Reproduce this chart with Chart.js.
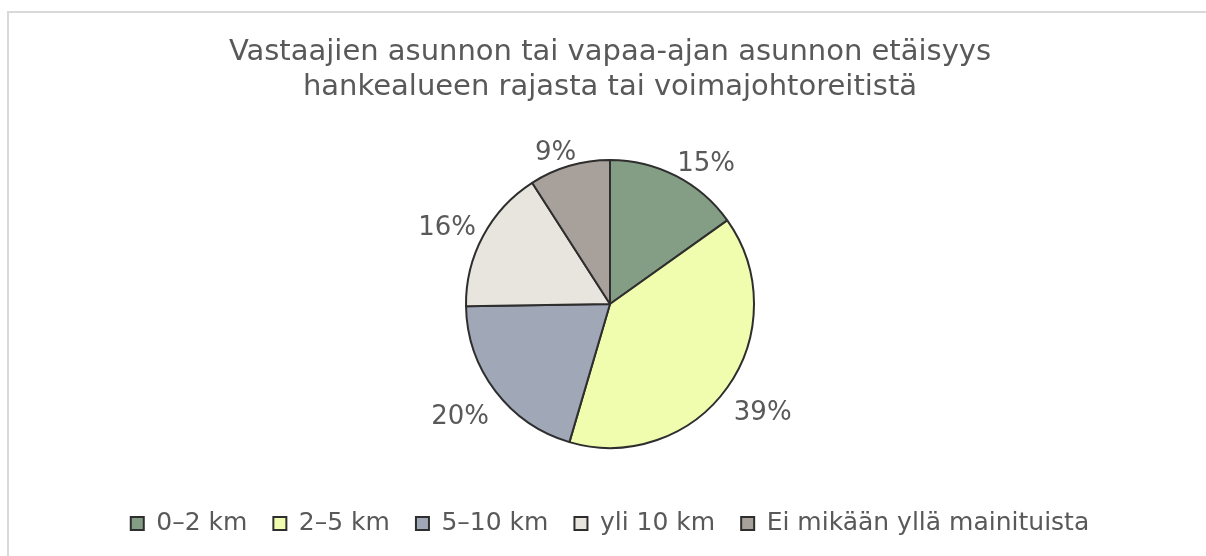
<!DOCTYPE html>
<html>
<head>
<meta charset="utf-8">
<script src="https://cdn.jsdelivr.net/npm/chart.js@4"></script>
<style>
  html, body { margin: 0; padding: 0; background: #fff; overflow: hidden; }
  #frame { position: absolute; left: 7px; top: 11px; width: 1300px; height: 700px;
           border: 2px solid #d9d9d9; box-sizing: border-box; }
  #wrap { position: absolute; left: 0; top: 0; width: 1206px; height: 556px; }
</style>
</head>
<body>
<div id="frame"></div>
<div id="wrap"><canvas id="pie"></canvas></div>
<script>
var categories = ['0–2 km', '2–5 km', '5–10 km', 'yli 10 km', 'Ei mikään yllä mainituista'];
var shares = [15, 39, 20, 16, 9];
var colors = ['#839e84', '#f1fdae', '#a0a8b8', '#e8e5df', '#a8a09a'];

var textColor = '#595959';
var fontFamily = '"DejaVu Sans", Verdana, sans-serif';

// percent labels placed just outside each slice
var outsideLabels = {
  id: 'outsideLabels',
  afterDatasetsDraw: function(chart) {
    var ctx = chart.ctx;
    var meta = chart.getDatasetMeta(0);
    var total = shares.reduce(function(a, b) { return a + b; }, 0);
    ctx.save();
    ctx.font = '26px ' + fontFamily;
    ctx.fillStyle = textColor;
    ctx.textAlign = 'center';
    ctx.textBaseline = 'middle';
    meta.data.forEach(function(arc, i) {
      var mid = (arc.startAngle + arc.endAngle) / 2;
      var r = arc.outerRadius + 8;
      var x = arc.x + Math.cos(mid) * r;
      var y = arc.y + Math.sin(mid) * r;
      var txt = Math.round(shares[i] / total * 100) + '%';
      var w = ctx.measureText(txt).width;
      var h = 26;
      var kx = Math.max(-1, Math.min(1, Math.cos(mid) * 2));
      var ky = Math.max(-1, Math.min(1, Math.sin(mid) * 2));
      ctx.fillText(txt, x + kx * w / 2, y + ky * h / 2 + 8);
    });
    ctx.restore();
  }
};

var pieChart = new Chart(document.getElementById('pie'), {
  type: 'pie',
  data: {
    labels: categories,
    datasets: [{
      data: shares,
      backgroundColor: colors,
      borderColor: '#2e2e2e',
      borderWidth: 2,
      radius: 144
    }]
  },
  plugins: [outsideLabels],
  options: {
    responsive: true,
    maintainAspectRatio: false,
    animation: false,
    layout: { padding: { top: 0, bottom: 10, left: 14 } },
    plugins: {
      tooltip: { enabled: false },
      title: {
        display: true,
        text: ['Vastaajien asunnon tai vapaa-ajan asunnon etäisyys', 'hankealueen rajasta tai voimajohtoreitistä'],
        color: textColor,
        font: { family: fontFamily, size: 29, weight: 'normal', lineHeight: 1.24 },
        padding: { top: 34, bottom: 17 }
      },
      legend: {
        position: 'bottom',
        labels: {
          color: textColor,
          font: { family: fontFamily, size: 25 },
          boxWidth: 13,
          boxHeight: 13,
          padding: 26,
          generateLabels: function(chart) {
            return categories.map(function(c, i) {
              return {
                text: c,
                fillStyle: colors[i],
                strokeStyle: '#2e2e2e',
                lineWidth: 2,
                fontColor: textColor,
                index: i
              };
            });
          }
        }
      }
    }
  }
});
</script>
</body>
</html>
